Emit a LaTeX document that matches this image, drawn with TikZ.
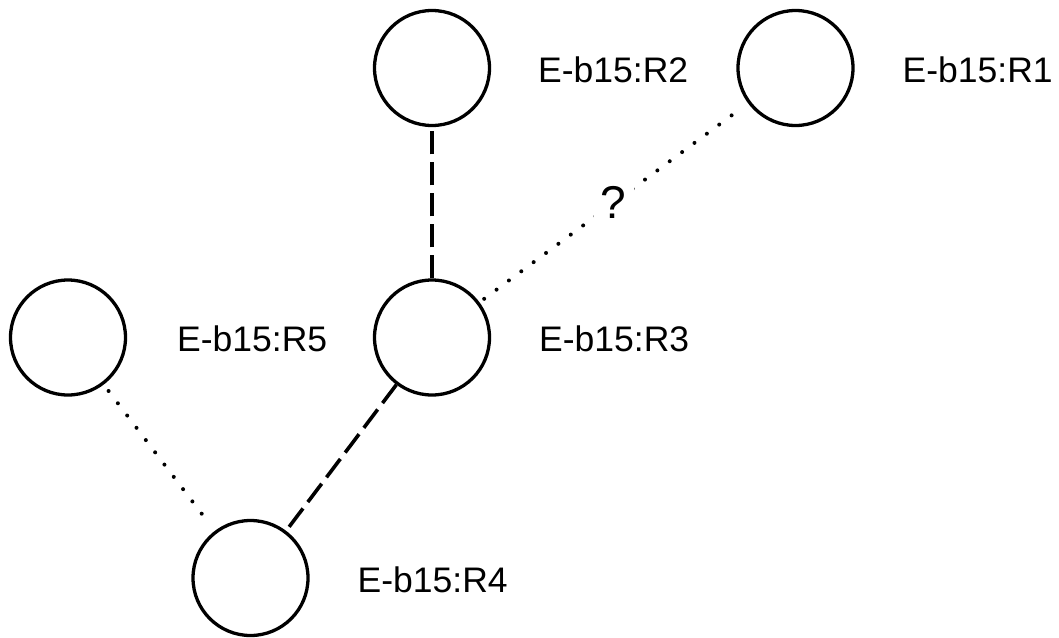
\documentclass[tikz,border=0pt]{standalone}
\usepackage{fontspec}
\setmainfont{Liberation Sans}
\begin{document}
\begin{tikzpicture}[x=1pt,y=-1pt,
  rnode/.style={circle,draw=black,line width=3.3pt,minimum size=115pt,inner sep=0pt,fill=white},
  lbl/.style={anchor=base west,inner sep=0pt,font=\fontsize{35.5}{40}\selectfont},
  qlbl/.style={fill=white,inner sep=7pt,font=\fontsize{46}{50}\selectfont},
  dashedge/.style={line width=3.6pt,dash pattern=on 23pt off 8pt},
  dotedge/.style={line width=4pt,line cap=round,dash pattern=on 0pt off 15.4pt}]
\useasboundingbox (0,0) rectangle (1059,637);
\node[rnode] (r1) at (795.5,68) {};
\node[rnode] (r2) at (432,68) {};
\node[rnode] (r3) at (432,337.5) {};
\node[rnode] (r4) at (250.5,578) {};
\node[rnode] (r5) at (68,337.5) {};
\node[lbl] (l1) at ([xshift=107pt,yshift=-14pt]r1.center) {E-b15:R1};
\node[lbl] (l2) at ([xshift=106pt,yshift=-14pt]r2.center) {E-b15:R2};
\node[lbl] (l3) at ([xshift=107pt,yshift=-14pt]r3.center) {E-b15:R3};
\node[lbl] (l4) at ([xshift=107pt,yshift=-14pt]r4.center) {E-b15:R4};
\node[lbl] (l5) at ([xshift=109pt,yshift=-14pt]r5.center) {E-b15:R5};
\draw[dashedge] (r3) -- (r2);
\draw[dashedge] (r3) -- (r4);
\draw[dotedge,shorten <=5.8pt,shorten >=8pt] (r3) -- node[qlbl] (q) {?} (r1);
\draw[dotedge,shorten <=8pt,shorten >=8.5pt] (r5) -- (r4);
\end{tikzpicture}
\end{document}
